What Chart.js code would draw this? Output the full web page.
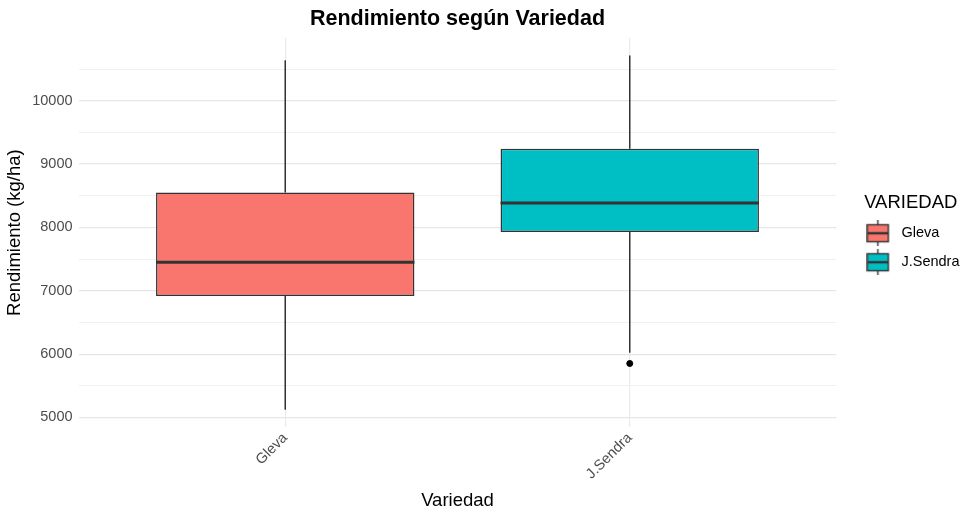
<!DOCTYPE html>
<html lang="es">
<head>
    <meta charset="UTF-8">
    <title>Rendimiento según Variedad</title>
    <script src="https://cdn.jsdelivr.net/npm/chart.js"></script>
    <style>
        html, body { margin: 0; padding: 0; background: #fff; }
        #wrap { width: 980px; height: 519px; }
    </style>
</head>
<body>
    <div id="wrap">
        <canvas id="boxChart"></canvas>
    </div>
    <script>
        // datos
        const categories = ['Gleva', 'J.Sendra'];
        const whiskerLow = [5122, 6021];
        const q1 = [6916, 7926];
        const median = [7449, 8386];
        const q3 = [8551, 9243];
        const whiskerHigh = [10640, 10714];
        const outliers = [[], [5852]];
        const fillColors = ['#F8766D', '#00BFC4'];
        const yTicks = [5000, 5500, 6000, 6500, 7000, 7500, 8000, 8500, 9000, 9500, 10000, 10500];

        const edge = '#333333';
        const halfBox = 0.375;
        const font = "'Liberation Sans', Arial, sans-serif";

        // icono de la leyenda (mini boxplot)
        function legendKey(color) {
            const c = document.createElement('canvas');
            c.width = 28; c.height = 26;
            const g = c.getContext('2d');
            g.strokeStyle = edge;
            g.lineWidth = 1.4;
            g.beginPath();
            g.moveTo(11.5, 0); g.lineTo(11.5, 4.5);
            g.moveTo(11.5, 21.5); g.lineTo(11.5, 26);
            g.stroke();
            g.fillStyle = color;
            g.fillRect(1, 4.5, 21, 17);
            g.strokeRect(1, 4.5, 21, 17);
            g.lineWidth = 2.4;
            g.beginPath();
            g.moveTo(1, 13); g.lineTo(22, 13);
            g.stroke();
            return c;
        }

        const datasets = [];
        categories.forEach((cat, i) => {
            const x = i + 1;
            datasets.push({
                type: 'bar',
                label: cat,
                data: [{ x: x, y: [q1[i], q3[i]] }],
                backgroundColor: fillColors[i],
                borderColor: edge,
                borderWidth: 1.5,
                borderSkipped: false,
                grouped: false,
                categoryPercentage: 1,
                barPercentage: 0.75,
                pointStyle: legendKey(fillColors[i]),
                order: 2
            });
            datasets.push({
                type: 'line',
                label: cat + ' mediana',
                data: [{ x: x - halfBox, y: median[i] }, { x: x + halfBox, y: median[i] }],
                borderColor: edge,
                borderWidth: 3,
                pointRadius: 0,
                order: 1
            });
            datasets.push({
                type: 'line',
                label: cat + ' bigotes',
                data: [
                    { x: x, y: q3[i] }, { x: x, y: whiskerHigh[i] },
                    { x: x, y: null },
                    { x: x, y: whiskerLow[i] }, { x: x, y: q1[i] }
                ],
                borderColor: edge,
                borderWidth: 1.5,
                pointRadius: 0,
                spanGaps: false,
                order: 3
            });
            if (outliers[i].length) {
                datasets.push({
                    type: 'scatter',
                    label: cat + ' atipicos',
                    data: outliers[i].map(v => ({ x: x, y: v })),
                    backgroundColor: '#000',
                    borderColor: '#000',
                    pointRadius: 3,
                    order: 0
                });
            }
        });

        const ctx = document.getElementById('boxChart').getContext('2d');
        new Chart(ctx, {
            data: { datasets: datasets },
            options: {
                responsive: true,
                maintainAspectRatio: false,
                animation: false,
                layout: { padding: { left: 0, right: 10.5, top: 2, bottom: 3 } },
                plugins: {
                    tooltip: { enabled: false },
                    title: {
                        display: true,
                        text: 'Rendimiento según Variedad',
                        fullSize: false,
                        color: '#000',
                        font: { family: font, size: 21.5, weight: 'bold' },
                        padding: { top: 4, bottom: 6 }
                    },
                    legend: {
                        position: 'right',
                        fullSize: false,
                        title: {
                            display: true,
                            text: 'VARIEDAD',
                            position: 'center',
                            color: '#000',
                            font: { family: font, size: 18.5 },
                            padding: { top: 12, bottom: -4 }
                        },
                        labels: {
                            usePointStyle: true,
                            pointStyleWidth: 27.75,
                            color: '#000',
                            font: { family: font, size: 14.5 },
                            padding: 14.5,
                            filter: item => categories.includes(item.text)
                        }
                    }
                },
                scales: {
                    x: {
                        type: 'linear',
                        min: 0.4,
                        max: 2.6,
                        offset: false,
                        afterBuildTicks: scale => { scale.ticks = [{ value: 1 }, { value: 2 }]; },
                        ticks: {
                            callback: v => categories[v - 1],
                            minRotation: 45,
                            maxRotation: 45,
                            color: '#4d4d4d',
                            font: { family: font, size: 14.5 },
                            padding: 2
                        },
                        grid: { offset: false, color: '#ebebeb', lineWidth: 1.2, drawTicks: false },
                        border: { display: false },
                        title: {
                            display: true,
                            text: 'Variedad',
                            color: '#000',
                            font: { family: font, size: 18.5 },
                            padding: { top: 5 }
                        }
                    },
                    y: {
                        type: 'linear',
                        min: 4842,
                        max: 10994,
                        afterBuildTicks: scale => { scale.ticks = yTicks.map(v => ({ value: v })); },
                        ticks: {
                            callback: v => (v % 1000 === 0 ? v : ''),
                            color: '#4d4d4d',
                            font: { family: font, size: 14.5 },
                            padding: 6
                        },
                        grid: {
                            color: c => (c.tick && c.tick.value % 1000 === 0 ? '#e6e6e6' : '#efefef'),
                            lineWidth: c => (c.tick && c.tick.value % 1000 === 0 ? 1.2 : 0.9),
                            drawTicks: false
                        },
                        border: { display: false },
                        title: {
                            display: true,
                            text: 'Rendimiento (kg/ha)',
                            color: '#000',
                            font: { family: font, size: 18.5 },
                            padding: { bottom: 0 }
                        }
                    },
                    // espacio vacio entre el panel y la leyenda
                    gap: {
                        type: 'linear',
                        position: 'right',
                        display: true,
                        ticks: { display: false },
                        grid: { display: false },
                        border: { display: false },
                        afterFit: s => { s.width = 15.5; }
                    }
                }
            }
        });
    </script>
</body>
</html>
